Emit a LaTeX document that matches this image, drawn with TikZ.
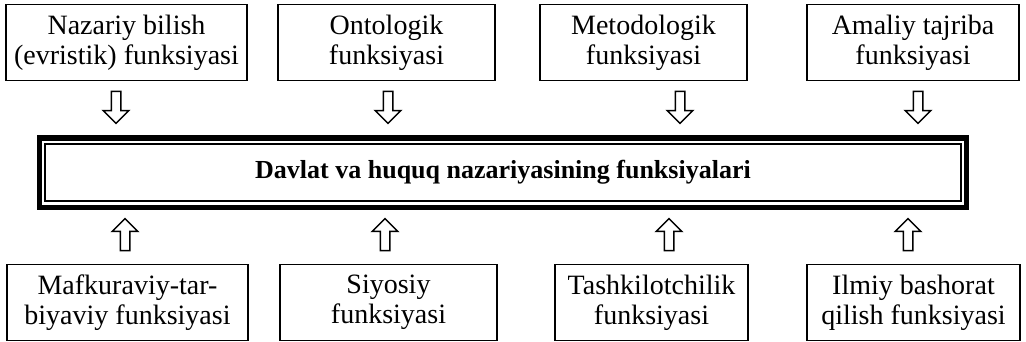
\documentclass[tikz,border=0pt]{standalone}
\usepackage{fontspec}
\setmainfont{Liberation Serif}
\usetikzlibrary{shapes.arrows}
\begin{document}
\begin{tikzpicture}[x=1pt,y=1pt,
  fbox/.style={draw=black, line width=1.8pt, align=center, inner sep=2pt,
    minimum height=76pt, font=\fontsize{28}{30}\selectfont},
  hollowarrow/.style={draw=black, line width=1.5pt, single arrow, inner sep=4pt,
    minimum height=32pt, minimum width=24pt, single arrow head extend=8pt},
  downarrow/.style={hollowarrow, shape border rotate=270},
  uparrow/.style={hollowarrow, shape border rotate=90}]
\useasboundingbox (0,0) rectangle (1026,342);
\fill[white] (0,0) rectangle (1026,342);
% top boxes
\node[fbox, minimum width=241pt] (t1) at (126.5,299.5) {Nazariy bilish\\(evristik) funksiyasi};
\node[fbox, minimum width=217pt] (t2) at (386.5,299.5) {Ontologik\\funksiyasi};
\node[fbox, minimum width=207pt] (t3) at (643.5,299.5) {Metodologik\\funksiyasi};
\node[fbox, minimum width=212pt] (t4) at (913,299.5) {Amaliy tajriba\\funksiyasi};
% main box
\draw[line width=5.5pt] (39.5,134.5) rectangle (966.5,204);
\node[draw=black, line width=1.4pt, minimum width=916pt, minimum height=57pt,
  font=\fontsize{26}{30}\selectfont\bfseries] (main) at (503,169.5)
  {Davlat va huquq nazariyasining funksiyalari};
% bottom boxes
\node[fbox, minimum width=241pt] (b1) at (127.5,39.5) {Mafkuraviy-tar-\\biyaviy funksiyasi};
\node[fbox, minimum width=217pt] (b2) at (388.5,39.5) {Siyosiy\\funksiyasi};
\node[fbox, minimum width=193pt] (b3) at (651.5,39.5) {Tashkilotchilik\\funksiyasi};
\node[fbox, minimum width=213pt] (b4) at (913.5,39.5) {Ilmiy bashorat\\qilish funksiyasi};
% arrows
\node[downarrow] (a1) at (116,237) {};
\node[downarrow] (a2) at (388,237) {};
\node[downarrow] (a3) at (680,237) {};
\node[downarrow] (a4) at (918,237) {};
\node[uparrow] (u1) at (125,105) {};
\node[uparrow] (u2) at (385,105) {};
\node[uparrow] (u3) at (669,105) {};
\node[uparrow] (u4) at (908,105) {};
\end{tikzpicture}
\end{document}
